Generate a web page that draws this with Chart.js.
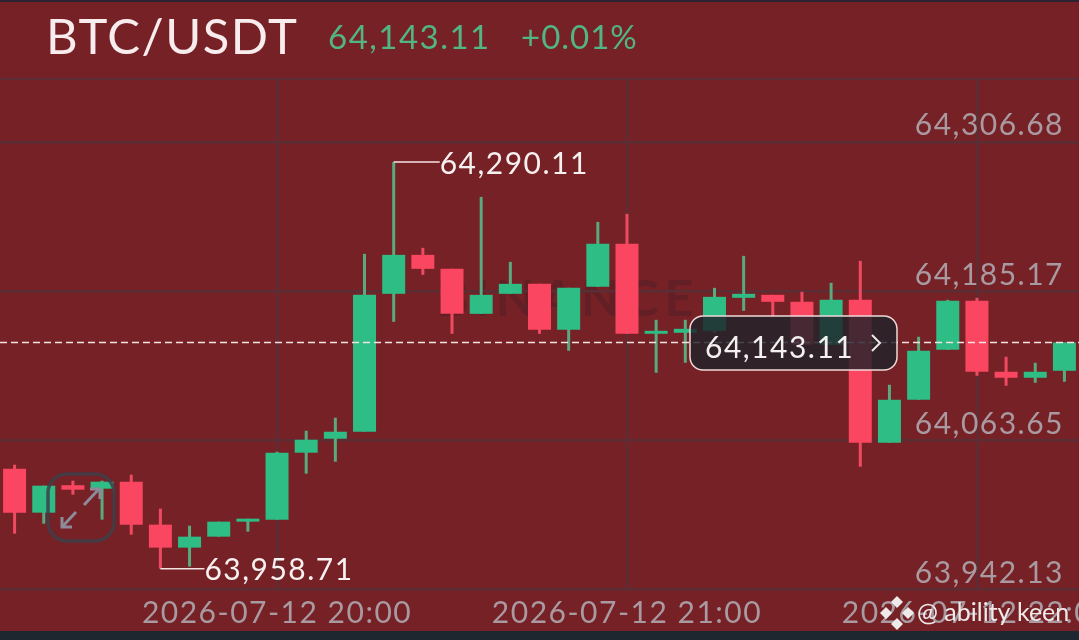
<!DOCTYPE html>
<html><head><meta charset="utf-8">
<style>html,body{margin:0;padding:0;background:#762125;overflow:hidden}canvas{display:block}</style>
<script src="https://cdn.jsdelivr.net/npm/chart.js@4/dist/chart.umd.min.js"></script>
</head><body>
<div style="width:1079px;height:640px"><canvas id="c" width="1079" height="640"></canvas></div>
<script>
const pairName = "BTC/USDT";
const lastPrice = 64143.11;
const changeText = "+0.01%";
const highLabel = 64290.11;
const lowLabel = 63958.71;
const highIndex = 13;
const lowIndex = 5;
const timeLabels = ["19:15","19:20","19:25","19:30","19:35","19:40","19:45","19:50","19:55","20:00","20:05","20:10","20:15","20:20","20:25","20:30","20:35","20:40","20:45","20:50","20:55","21:00","21:05","21:10","21:15","21:20","21:25","21:30","21:35","21:40","21:45","21:50","21:55","22:00","22:05","22:10","22:15"].map(t=>"2026-07-12 "+t);
const xTickIndexes = [9,21,33];
const yTicks = [63942.13,64063.65,64185.17,64306.68];
const opens = [64040.19,64004.35,64026.75,64023.90,64029.60,63994.58,63975.84,63984.80,63997.02,63998.65,64053.22,64064.62,64070.33,64182.73,64214.49,64203.09,64166.44,64182.73,64190.87,64153.40,64188.43,64223.45,64150.15,64150.96,64152.59,64179.47,64181.91,64176.21,64141.19,64177.84,64061.37,64096.39,64137.11,64177.02,64119.20,64114.31,64120.01];
const closes = [64004.35,64026.34,64023.08,64029.60,63994.58,63975.84,63984.80,63997.02,63999.46,64053.22,64063.81,64070.33,64181.91,64214.49,64203.09,64166.44,64181.91,64190.87,64153.40,64187.61,64223.45,64150.15,64152.59,64154.22,64180.28,64182.73,64176.21,64141.19,64177.84,64061.37,64096.39,64136.30,64177.02,64119.20,64114.31,64119.20,64143.11];
const highs = [64043.45,64026.34,64030.41,64030.41,64035.30,64007.61,63993.76,63997.02,63999.46,64054.04,64071.14,64081.73,64215.31,64290.11,64220.19,64203.09,64261.73,64208.79,64190.87,64187.61,64241.37,64247.89,64161.55,64161.55,64187.61,64213.68,64181.91,64184.36,64191.69,64209.61,64108.61,64147.70,64177.84,64179.47,64131.41,64126.53,64143.11];
const lows = [63987.25,63995.39,64019.01,63998.65,63986.43,63958.71,63960.37,63984.80,63988.88,63998.65,64036.12,64045.89,64070.33,64159.92,64198.20,64150.15,64166.44,64182.73,64150.15,64136.30,64188.43,64150.15,64118.38,64126.53,64150.96,64168.88,64163.99,64141.19,64141.19,64041.82,64061.37,64096.39,64137.11,64115.94,64107.79,64110.24,64111.05];

const UP="#2dbd85", DOWN="#fb4661", UPW="#5aa97f", DOWNW="#f04a62";
const GRID="#5b2e36", AXIS="#a99aa2", FONT="Lato", SPACING="1.5px";
const isUp=i=>closes[i]>=opens[i];
const fmt=v=>v.toLocaleString("en-US",{minimumFractionDigits:2,maximumFractionDigits:2});

const decor={
  id:"decor",
  beforeDraw(ch){
    const c=ch.ctx;
    c.save();
    c.fillStyle="#762125";c.fillRect(0,0,1079,640);
    c.fillStyle="#2e2232";c.fillRect(0,0,1079,2);
    c.fillStyle="#1e2630";c.fillRect(0,631,1079,9);
    c.fillStyle=GRID;c.fillRect(0,78,1079,2);
    c.letterSpacing=SPACING;
    c.textBaseline="middle";c.textAlign="left";
    c.font="400 49px "+FONT;c.fillStyle="#f8ecee";c.fillText(pairName,46,38);
    c.font="400 33px "+FONT;c.fillStyle="#52b584";c.fillText(fmt(lastPrice),328,38);
    c.letterSpacing="1px";c.fillText(changeText,521,38);
    // faint exchange watermark
    c.letterSpacing="6px";
    c.font="700 50px "+FONT;c.fillStyle="rgba(70,30,38,.4)";c.fillText("BINANCE",436,300);
    c.restore();
    c.letterSpacing=SPACING;
  },
  afterDatasetsDraw(ch){
    const c=ch.ctx,x=ch.scales.x,y=ch.scales.y;
    c.save();
    c.letterSpacing=SPACING;
    // last price dashed line
    const ly=y.getPixelForValue(lastPrice);
    c.strokeStyle="#f3e4e4";c.lineWidth=1.5;c.setLineDash([7,4]);
    c.beginPath();c.moveTo(0,ly);c.lineTo(1079,ly);c.stroke();c.setLineDash([]);
    // high / low leaders
    c.strokeStyle="#f3e4e4";c.lineWidth=1.5;
    const hx=x.getPixelForValue(highIndex),hy=y.getPixelForValue(highLabel);
    c.beginPath();c.moveTo(hx,hy);c.lineTo(hx+46,hy);c.stroke();
    const lx=x.getPixelForValue(lowIndex),lwy=y.getPixelForValue(lowLabel);
    c.beginPath();c.moveTo(lx,lwy);c.lineTo(lx+44,lwy);c.stroke();
    c.font="400 30px "+FONT;c.fillStyle="#f7f0f0";c.textBaseline="middle";c.textAlign="left";
    c.fillText(fmt(highLabel),hx+46,hy+2);
    c.fillText(fmt(lowLabel),lx+44,lwy+2);
    // price pill
    c.beginPath();c.roundRect(690,316,207,54,13);
    c.fillStyle="rgba(32,34,42,.82)";c.fill();
    c.strokeStyle="#f0d8d8";c.lineWidth=1.5;c.stroke();
    c.fillStyle="#f5f0f0";c.fillText(fmt(lastPrice),705,348);
    c.strokeStyle="#f0e8e8";c.lineWidth=2;
    c.beginPath();c.moveTo(872,335);c.lineTo(880,343);c.lineTo(872,351);c.stroke();
    // expand icon
    c.strokeStyle="rgba(62,62,74,.85)";c.lineWidth=3.5;
    c.beginPath();c.roundRect(48,474,66,67,19);c.stroke();
    c.strokeStyle="#8d8a9a";c.lineWidth=3;
    [[62,527,76,512],[84,505,98,490]].forEach(s=>{c.beginPath();c.moveTo(s[0],s[1]);c.lineTo(s[2],s[3]);c.stroke();});
    c.beginPath();c.moveTo(62,517);c.lineTo(62,527);c.lineTo(72,527);c.stroke();
    c.beginPath();c.moveTo(90,489);c.lineTo(100,489);c.lineTo(100,499);c.stroke();
    // credit
    const kx=897,ky=613;
    c.fillStyle="#efeaea";
    [[0,-11],[-11,0],[11,0],[0,11]].forEach(o=>{
      c.beginPath();c.moveTo(kx+o[0],ky+o[1]-6);c.lineTo(kx+o[0]+6,ky+o[1]);c.lineTo(kx+o[0],ky+o[1]+6);c.lineTo(kx+o[0]-6,ky+o[1]);c.closePath();c.fill();
    });
    c.letterSpacing="0px";
    c.font="400 25px "+FONT;c.fillStyle="#efeaea";c.fillText("@ ability keen",917,613);
    c.restore();
  }
};

new Chart(document.getElementById("c"),{
  type:"bar",
  data:{labels:timeLabels,datasets:[
    {label:"Wick",order:2,grouped:false,barThickness:3,inflateAmount:0,
     data:highs.map((h,i)=>[lows[i],h]),
     backgroundColor:opens.map((_,i)=>isUp(i)?UPW:DOWNW)},
    {label:"Body",order:1,grouped:false,barThickness:23,inflateAmount:0,
     data:opens.map((o,i)=>[o,closes[i]]),
     backgroundColor:opens.map((_,i)=>isUp(i)?UP:DOWN)}
  ]},
  options:{
    responsive:false,animation:false,devicePixelRatio:1,
    layout:{padding:{top:79,left:0,right:0,bottom:0}},
    plugins:{legend:{display:false},title:{display:false},tooltip:{enabled:false}},
    scales:{
      x:{type:"category",offset:true,
        afterBuildTicks(s){s.ticks=xTickIndexes.map(v=>({value:v}));},
        afterFit(s){s.paddingLeft=0;s.paddingRight=0;s.height=51;},
        grid:{color:GRID,lineWidth:2.5,drawTicks:false,offset:false},
        border:{display:false},
        ticks:{autoSkip:false,maxRotation:0,minRotation:0,padding:6,color:AXIS,font:{family:FONT,size:30}}},
      y:{type:"linear",position:"right",min:63942.13,max:64357.84,
        afterBuildTicks(s){s.ticks=yTicks.map(v=>({value:v}));},
        afterFit(s){s.width=0;},
        grid:{color:GRID,lineWidth:2.5,drawTicks:false},
        border:{display:false},
        ticks:{mirror:true,padding:-15,labelOffset:-16,color:AXIS,font:{family:FONT,size:30},callback:v=>fmt(v)}}
    }
  },
  plugins:[decor]
});
</script>
</body></html>
